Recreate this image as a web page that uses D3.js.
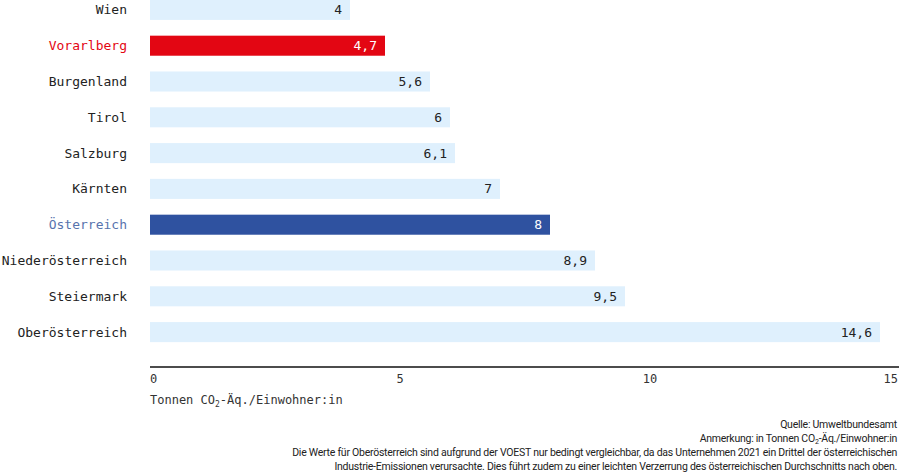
<!DOCTYPE html><html><head><meta charset="utf-8"><script src="https://cdn.jsdelivr.net/npm/d3@7"></script>
<style>body{margin:0;background:#fff}svg{display:block}</style></head><body><svg id="c" width="900" height="474"></svg>
<script>
const categories=["Wien","Vorarlberg","Burgenland","Tirol","Salzburg","Kärnten","Österreich","Niederösterreich","Steiermark","Oberösterreich"];
const values=[4,4.7,5.6,6,6.1,7,8,8.9,9.5,14.6];
const ticks=[0,5,10,15];
const svg=d3.select("#c");
const x=d3.scaleLinear().domain([0,15]).range([150,900]);
const y=d3.scaleBand().domain(categories).range([-8,350]).paddingInner(0.44).paddingOuter(0.22);
const mono="'DejaVu Sans Mono',monospace";
const fill=c=>c==="Vorarlberg"?"#e30613":c==="Österreich"?"#2f52a0":"#dff0fd";
const lab=c=>c==="Vorarlberg"?"#e30613":c==="Österreich"?"#5873ad":"#222";
const g=svg.selectAll("g.r").data(categories).join("g");
g.append("rect").attr("x",x(0)).attr("y",c=>y(c)).attr("height",y.bandwidth()).attr("width",(c,i)=>x(values[i])-x(0)).attr("fill",fill);
g.append("text").attr("x",127).attr("y",c=>y(c)+y.bandwidth()/2).attr("dy","0.35em").attr("text-anchor","end").attr("font-family",mono).attr("font-size",13).attr("fill",lab).text(c=>c);
g.append("text").attr("x",(c,i)=>x(values[i])-8).attr("y",c=>y(c)+y.bandwidth()/2).attr("dy","0.35em").attr("text-anchor","end").attr("font-family",mono).attr("font-size",13).attr("fill",c=>(c==="Vorarlberg"||c==="Österreich")?"#fff":"#222").text((c,i)=>String(values[i]).replace(".",","));
svg.append("line").attr("x1",150).attr("x2",899).attr("y1",367).attr("y2",367).attr("stroke","#111").attr("stroke-width",1.5);
svg.selectAll("text.t").data(ticks).join("text").attr("y",383).attr("font-family",mono).attr("font-size",12).attr("fill","#333").text(d=>d).attr("x",d=>d===0?150:d===15?898:x(d)).attr("text-anchor",d=>d===0?"start":d===15?"end":"middle");
const t=svg.append("text").attr("x",150).attr("y",404).attr("font-family",mono).attr("font-size",12).attr("fill","#333");
t.append("tspan").text("Tonnen CO");t.append("tspan").attr("font-size",8).attr("dy",3).text("2");t.append("tspan").attr("dy",-3).text("-Äq./Einwohner:in");
const fs="Roboto,sans-serif";
const foot=[["Quelle: Umweltbundesamt",428],[null,442],["Die Werte für Oberösterreich sind aufgrund der VOEST nur bedingt vergleichbar, da das Unternehmen 2021 ein Drittel der österreichischen",456],["Industrie-Emissionen verursachte. Dies führt zudem zu einer leichten Verzerrung des österreichischen Durchschnitts nach oben.",470]];
foot.forEach(([s,yy])=>{const e=svg.append("text").attr("x",897).attr("y",yy).attr("text-anchor","end").attr("font-family",fs).attr("font-size",10.5).attr("letter-spacing",-0.25).attr("fill","#222");
 if(s)e.text(s);else{e.append("tspan").text("Anmerkung: in Tonnen CO");e.append("tspan").attr("font-size",7).attr("dy",2).text("2");e.append("tspan").attr("dy",-2).text("-Äq./Einwohner:in");}});
</script></body></html>
